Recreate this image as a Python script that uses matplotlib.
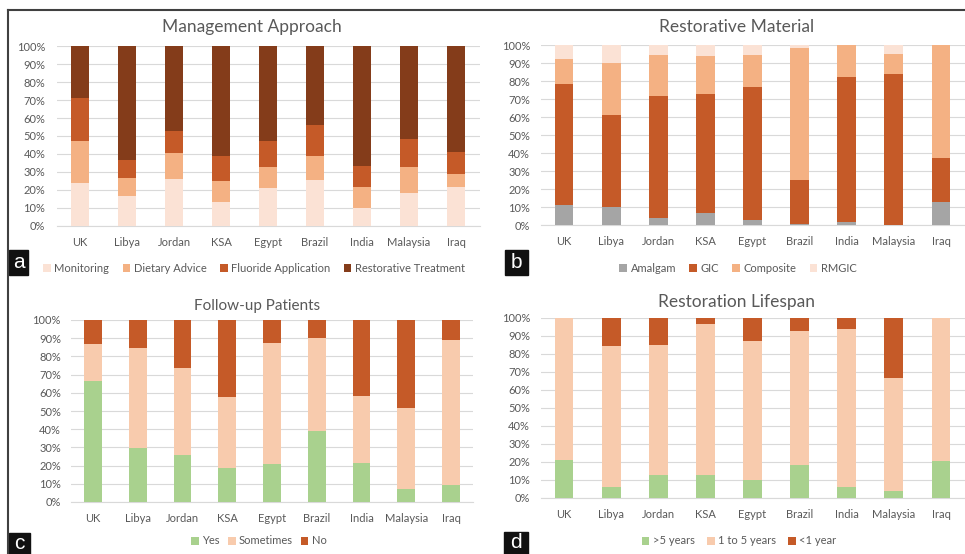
import matplotlib
matplotlib.use("Agg")
import matplotlib.pyplot as plt
from matplotlib.patches import Rectangle
from matplotlib.lines import Line2D
from matplotlib.ticker import PercentFormatter

plt.rcParams['font.family'] = ['Lato', 'DejaVu Sans']

countries = ['UK', 'Libya', 'Jordan', 'KSA', 'Egypt', 'Brazil', 'India', 'Malaysia', 'Iraq']

# --------------------------
# a - Management Approach (% of respondents)
# --------------------------
monitoring = [24, 16.5, 26, 13.5, 21, 25.7, 10.2, 18.3, 21.7]
dietary_advice = [23, 10.4, 14.5, 11.3, 11.9, 13.4, 11.7, 14.7, 7.4]
fluoride_application = [24, 9.8, 12.2, 14.3, 14.6, 17, 11.6, 15.1, 12]
restorative_treatment = [29, 63.3, 47.3, 60.9, 52.5, 43.9, 66.5, 51.9, 58.9]

# b - Restorative Material
amalgam = [11.1, 10, 3.9, 6.9, 2.6, 0.7, 1.7, 0, 13]
gic = [67, 51.1, 67.6, 65.7, 73.9, 24.1, 80.3, 84.1, 24.2]
composite = [13.9, 28.7, 23.1, 21.3, 17.9, 73.7, 18, 10.9, 62.8]
rmgic = [8, 10.2, 5.4, 6.1, 5.6, 1.5, 0, 4.9, 0]

# c - Follow-up Patients
yes = [66.6, 29.5, 25.9, 18.7, 21.1, 38.9, 21.7, 7, 9.2]
sometimes = [20, 55.3, 47.5, 38.9, 66.4, 51, 36.3, 44.4, 79.8]
no = [13.4, 15.2, 26.6, 42.4, 12.5, 10.1, 42, 48.6, 11]

# d - Restoration Lifespan
over_5 = [21.3, 5.9, 12.8, 12.8, 10, 18.1, 5.9, 3.7, 20.7]
one_to_5 = [78.7, 78.5, 72.4, 83.9, 77, 74.9, 88.2, 63, 79.3]
under_1 = [0, 15.6, 14.8, 3.3, 13, 7, 5.9, 33.3, 0]

text_color = '#595959'
grid_color = '#D9D9D9'

W, H = 965, 554
fig = plt.figure(figsize=(W / 100, H / 100), dpi=100)


def px_axes(x0, x1, top, bottom):
    return fig.add_axes([x0 / W, (H - bottom) / H, (x1 - x0) / W, (bottom - top) / H])


panels = [
    dict(rect=(56.5, 479.5, 46, 226), title='Management Approach', title_pos=(252, 27), title_size=12.5,
         leg_pos=(254, 268), ypad=8, colspace=1.2,
         series=[('Monitoring', monitoring, '#FBE2D5'),
                 ('Dietary Advice', dietary_advice, '#F4B183'),
                 ('Fluoride Application', fluoride_application, '#C55A28'),
                 ('Restorative Treatment', restorative_treatment, '#843C1A')]),
    dict(rect=(540.5, 964.5, 45, 225), title='Restorative Material', title_pos=(737, 27), title_size=12.5,
         leg_pos=(738, 268), ypad=7.5, colspace=1.2,
         series=[('Amalgam', amalgam, '#A5A5A5'),
                 ('GIC', gic, '#C55A28'),
                 ('Composite', composite, '#F4B183'),
                 ('RMGIC', rmgic, '#FBE2D5')]),
    dict(rect=(70.6, 473.4, 320, 502), title='Follow-up Patients', title_pos=(257, 306), title_size=11,
         leg_pos=(259, 541), ypad=7, colspace=0.7,
         series=[('Yes', yes, '#A9D18E'),
                 ('Sometimes', sometimes, '#F8CBAD'),
                 ('No', no, '#C55A28')]),
    dict(rect=(540.5, 964.5, 318, 498), title='Restoration Lifespan', title_pos=(737, 302), title_size=12.5,
         leg_pos=(739, 541), ypad=7.5, colspace=1.1,
         series=[('>5 years', over_5, '#A9D18E'),
                 ('1 to 5 years', one_to_5, '#F8CBAD'),
                 ('<1 year', under_1, '#C55A28')]),
]

x = list(range(len(countries)))
for p in panels:
    ax = px_axes(*p['rect'])
    bottom = [0] * len(countries)
    for label, values, color in p['series']:
        ax.bar(x, values, width=0.4, bottom=bottom, color=color, label=label, zorder=3)
        bottom = [b + v for b, v in zip(bottom, values)]

    ax.set_xlim(-0.5, len(countries) - 0.5)
    ax.set_ylim(0, 100)
    ax.set_yticks(range(0, 101, 10))
    ax.yaxis.set_major_formatter(PercentFormatter(decimals=0))
    ax.set_xticks(x)
    ax.set_xticklabels(countries)
    ax.tick_params(axis='x', length=0, pad=8, labelsize=8, labelcolor=text_color)
    ax.tick_params(axis='y', length=0, pad=p['ypad'], labelsize=8, labelcolor=text_color)
    ax.grid(axis='y', color=grid_color, linewidth=0.8, zorder=0)
    for side in ['top', 'right', 'left']:
        ax.spines[side].set_visible(False)
    ax.spines['bottom'].set_color(grid_color)
    ax.spines['bottom'].set_linewidth(0.8)

    tx, ty = p['title_pos']
    fig.text(tx / W, 1 - ty / H, p['title'], ha='center', va='center',
             fontsize=p['title_size'], color=text_color)

    handles, labels = ax.get_legend_handles_labels()
    lx, ly = p['leg_pos']
    fig.legend(handles, labels, loc='center', bbox_to_anchor=(lx / W, 1 - ly / H), ncol=len(labels),
               frameon=False, fontsize=8, labelcolor=text_color, handlelength=0.7, handleheight=0.7,
               handletextpad=0.3, columnspacing=p['colspace'], borderpad=0)

# panel letters
for letter, (x0, y0, x1, y1) in zip('abcd', [(9, 250, 28, 275), (505, 250, 528, 275),
                                            (9, 533, 30, 554), (504, 532, 528, 554)]):
    fig.add_artist(Rectangle((x0 / W, 1 - y1 / H), (x1 - x0) / W, (y1 - y0) / H,
                             transform=fig.transFigure, color='#111111'))
    fig.text((x0 + x1) / 2 / W, 1 - (y0 + y1) / 2 / H, letter, ha='center', va='center',
             color='white', fontsize=15, family='Liberation Sans')

# frame lines
fig.add_artist(Line2D([8 / W, 1], [1 - 10 / H, 1 - 10 / H], transform=fig.transFigure,
                      color='#404040', linewidth=1.5))
fig.add_artist(Line2D([8 / W, 8 / W], [0, 1 - 10 / H], transform=fig.transFigure,
                      color='#404040', linewidth=1.5))

fig.savefig('out.png', dpi=100)
